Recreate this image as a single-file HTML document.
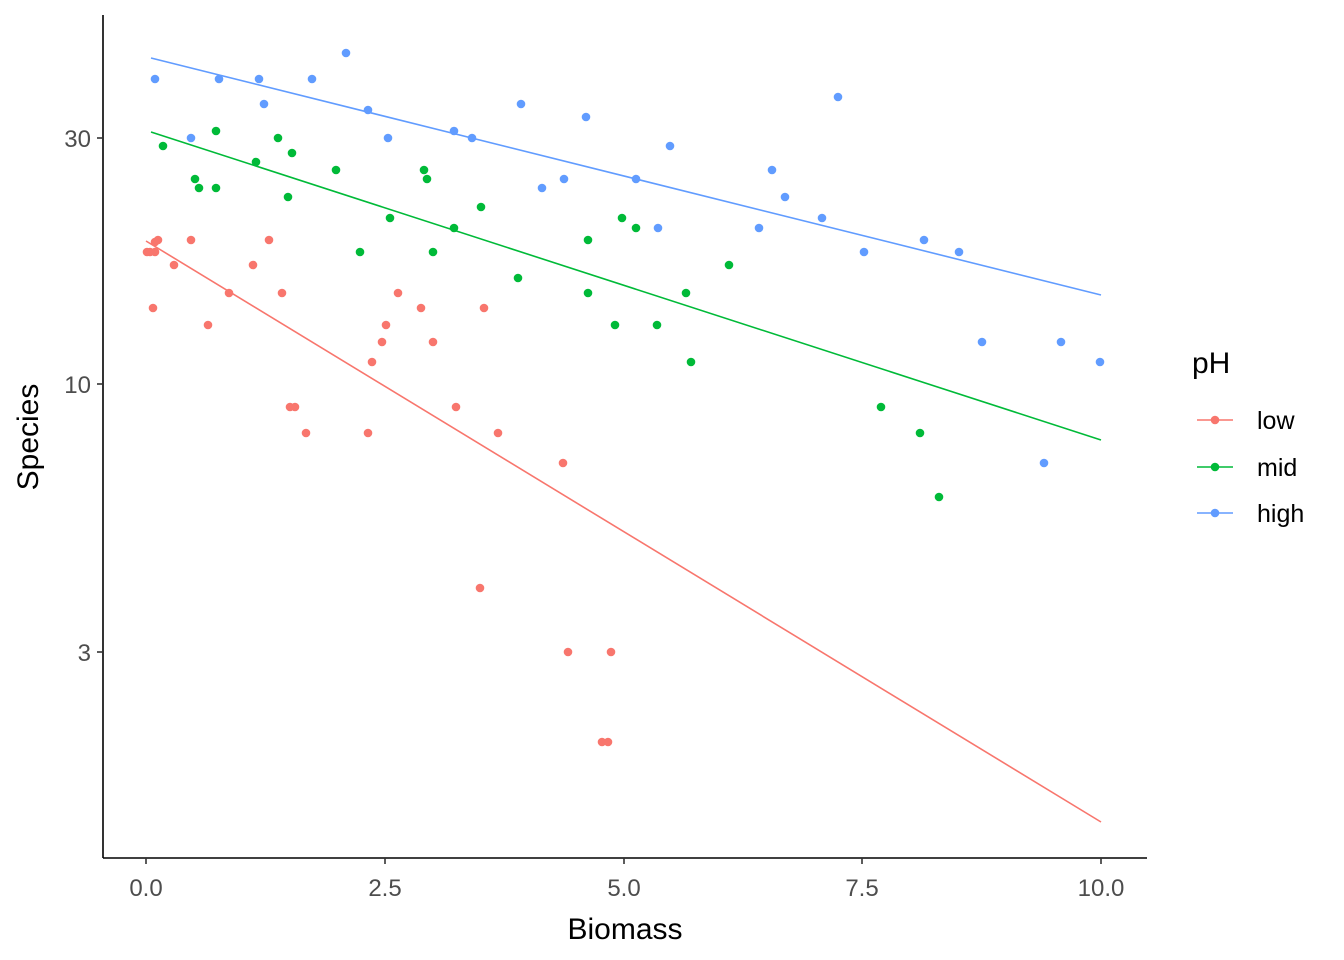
<!DOCTYPE html>
<html><head><meta charset="utf-8"><style>
html,body{margin:0;padding:0;background:#fff}
svg{display:block;font-family:"Liberation Sans",Arial,sans-serif}
circle{r:4.3px}
</style></head><body>
<svg width="1344" height="960" viewBox="0 0 1344 960" xmlns="http://www.w3.org/2000/svg">
<rect width="1344" height="960" fill="#fff"/>
<g stroke-width="1.6">
<line x1="146" y1="241" x2="1101" y2="822" stroke="#F8766D"/>
<line x1="151" y1="132" x2="1101" y2="440" stroke="#00BA38"/>
<line x1="151" y1="58" x2="1101" y2="295" stroke="#619CFF"/>
</g>
<g fill="#F8766D">
<circle cx="147" cy="252" r="4"/><circle cx="150" cy="252" r="4"/><circle cx="155" cy="252" r="4"/><circle cx="158" cy="240" r="4"/><circle cx="155" cy="242" r="4"/><circle cx="174" cy="265" r="4"/><circle cx="191" cy="240" r="4"/><circle cx="229" cy="293" r="4"/><circle cx="208" cy="325" r="4"/><circle cx="153" cy="308" r="4"/><circle cx="253" cy="265" r="4"/><circle cx="269" cy="240" r="4"/><circle cx="282" cy="293" r="4"/><circle cx="290" cy="407" r="4"/><circle cx="295" cy="407" r="4"/><circle cx="306" cy="433" r="4"/><circle cx="368" cy="433" r="4"/><circle cx="372" cy="362" r="4"/><circle cx="382" cy="342" r="4"/><circle cx="386" cy="325" r="4"/><circle cx="398" cy="293" r="4"/><circle cx="421" cy="308" r="4"/><circle cx="433" cy="342" r="4"/><circle cx="456" cy="407" r="4"/><circle cx="484" cy="308" r="4"/><circle cx="498" cy="433" r="4"/><circle cx="563" cy="463" r="4"/><circle cx="480" cy="588" r="4"/><circle cx="568" cy="652" r="4"/><circle cx="611" cy="652" r="4"/><circle cx="602" cy="742" r="4"/><circle cx="608" cy="742" r="4"/>
</g>
<g fill="#00BA38">
<circle cx="163" cy="146" r="4"/><circle cx="216" cy="131" r="4"/><circle cx="195" cy="179" r="4"/><circle cx="199" cy="188" r="4"/><circle cx="216" cy="188" r="4"/><circle cx="256" cy="162" r="4"/><circle cx="278" cy="138" r="4"/><circle cx="292" cy="153" r="4"/><circle cx="288" cy="197" r="4"/><circle cx="336" cy="170" r="4"/><circle cx="360" cy="252" r="4"/><circle cx="390" cy="218" r="4"/><circle cx="424" cy="170" r="4"/><circle cx="427" cy="179" r="4"/><circle cx="433" cy="252" r="4"/><circle cx="454" cy="228" r="4"/><circle cx="481" cy="207" r="4"/><circle cx="518" cy="278" r="4"/><circle cx="588" cy="240" r="4"/><circle cx="588" cy="293" r="4"/><circle cx="615" cy="325" r="4"/><circle cx="622" cy="218" r="4"/><circle cx="636" cy="228" r="4"/><circle cx="657" cy="325" r="4"/><circle cx="686" cy="293" r="4"/><circle cx="691" cy="362" r="4"/><circle cx="729" cy="265" r="4"/><circle cx="881" cy="407" r="4"/><circle cx="920" cy="433" r="4"/><circle cx="939" cy="497" r="4"/>
</g>
<g fill="#619CFF">
<circle cx="155" cy="79" r="4"/><circle cx="191" cy="138" r="4"/><circle cx="219" cy="79" r="4"/><circle cx="259" cy="79" r="4"/><circle cx="264" cy="104" r="4"/><circle cx="312" cy="79" r="4"/><circle cx="346" cy="53" r="4"/><circle cx="368" cy="110" r="4"/><circle cx="388" cy="138" r="4"/><circle cx="454" cy="131" r="4"/><circle cx="472" cy="138" r="4"/><circle cx="521" cy="104" r="4"/><circle cx="542" cy="188" r="4"/><circle cx="564" cy="179" r="4"/><circle cx="586" cy="117" r="4"/><circle cx="636" cy="179" r="4"/><circle cx="658" cy="228" r="4"/><circle cx="670" cy="146" r="4"/><circle cx="759" cy="228" r="4"/><circle cx="772" cy="170" r="4"/><circle cx="785" cy="197" r="4"/><circle cx="822" cy="218" r="4"/><circle cx="838" cy="97" r="4"/><circle cx="864" cy="252" r="4"/><circle cx="924" cy="240" r="4"/><circle cx="959" cy="252" r="4"/><circle cx="982" cy="342" r="4"/><circle cx="1044" cy="463" r="4"/><circle cx="1061" cy="342" r="4"/><circle cx="1100" cy="362" r="4"/>
</g>
<g stroke="#000" stroke-width="1.6">
<line x1="103" y1="15" x2="103" y2="858"/>
<line x1="103" y1="858" x2="1147" y2="858"/>
</g>
<g stroke="#333" stroke-width="1.6">
<line x1="97" y1="138" x2="103" y2="138"/><line x1="97" y1="384" x2="103" y2="384"/><line x1="97" y1="652" x2="103" y2="652"/>
<line x1="146" y1="858" x2="146" y2="864"/><line x1="385" y1="858" x2="385" y2="864"/><line x1="624" y1="858" x2="624" y2="864"/><line x1="862" y1="858" x2="862" y2="864"/><line x1="1101" y1="858" x2="1101" y2="864"/>
</g>
<g fill="#4D4D4D" font-size="24">
<text x="91" y="147" text-anchor="end">30</text>
<text x="91" y="393" text-anchor="end">10</text>
<text x="91" y="661" text-anchor="end">3</text>
<text x="146" y="896" text-anchor="middle">0.0</text>
<text x="385" y="896" text-anchor="middle">2.5</text>
<text x="624" y="896" text-anchor="middle">5.0</text>
<text x="862" y="896" text-anchor="middle">7.5</text>
<text x="1101" y="896" text-anchor="middle">10.0</text>
</g>
<text x="625" y="939" text-anchor="middle" font-size="30">Biomass</text>
<text transform="translate(38,437) rotate(-90)" text-anchor="middle" font-size="30">Species</text>
<text x="1192" y="373" font-size="30">pH</text>
<g stroke-width="1.6">
<line x1="1197" y1="420" x2="1233" y2="420" stroke="#F8766D"/>
<line x1="1197" y1="467" x2="1233" y2="467" stroke="#00BA38"/>
<line x1="1197" y1="513" x2="1233" y2="513" stroke="#619CFF"/>
</g>
<circle cx="1215" cy="420" r="4" fill="#F8766D"/>
<circle cx="1215" cy="467" r="4" fill="#00BA38"/>
<circle cx="1215" cy="513" r="4" fill="#619CFF"/>
<g font-size="25">
<text x="1257" y="429">low</text>
<text x="1257" y="476">mid</text>
<text x="1257" y="522">high</text>
</g>
</svg>
</body></html>
